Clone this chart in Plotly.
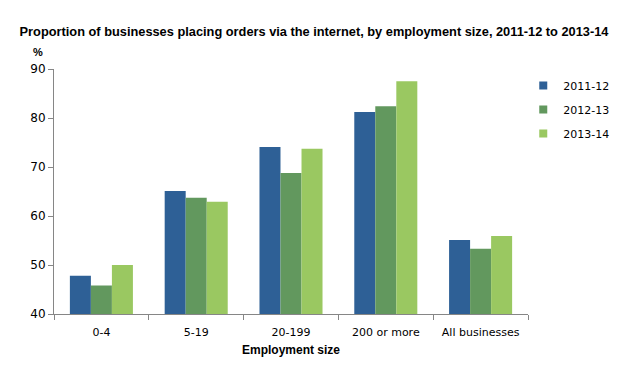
import plotly.graph_objects as go

categories = ["0-4", "5-19", "20-199", "200 or more", "All businesses"]
series_names = ["2011-12", "2012-13", "2013-14"]
values_2011_12 = [47.8, 65.1, 74.1, 81.2, 55.1]
values_2012_13 = [45.8, 63.7, 68.8, 82.4, 53.3]
values_2013_14 = [50.0, 62.9, 73.7, 87.5, 55.9]
y_ticks = [40, 50, 60, 70, 80, 90]

colors = ["#2E6096", "#62985E", "#9AC861"]
series_values = [values_2011_12, values_2012_13, values_2013_14]

fig = go.Figure()
for name, vals, col in zip(series_names, series_values, colors):
    fig.add_trace(go.Bar(x=categories, y=vals, name=name, marker_color=col,
                         marker_line_width=0, showlegend=False))
for i, (name, col) in enumerate(zip(series_names, colors)):
    fig.add_trace(go.Scatter(x=[None], y=[None], mode="markers", name=name,
                             legendgroup=f"g{i}",
                             marker=dict(symbol="square", size=8, color=col)))

axis_col = "#868686"
# page body adds an 8px offset; figure sized to fit the 623x390 window
W, H = 615, 382
fig.update_layout(
    width=W, height=H,
    margin=dict(l=46, r=95, t=61, b=76, autoexpand=False),
    paper_bgcolor="white", plot_bgcolor="white",
    barmode="group", bargap=0.335, bargroupgap=0,
    font=dict(family="DejaVu Sans", size=11, color="#000000"),
    title=dict(text="<b>Proportion of businesses placing orders via the internet, by employment size, 2011-12 to 2013-14</b>",
               x=306 / W, xref="container", xanchor="center", y=1 - 24 / H, yanchor="middle",
               font=dict(family="Liberation Sans", size=12.8, color="#000000")),
    xaxis=dict(showline=True, linecolor=axis_col, linewidth=1, automargin=False,
               ticks="outside", tickson="boundaries", ticklen=5, tickcolor=axis_col,
               ticklabelstandoff=8,
               showgrid=False, zeroline=False,
               tickfont=dict(family="DejaVu Sans", size=11),
               title=dict(text="<b>Employment size</b>", standoff=7,
                          font=dict(family="Liberation Sans", size=12))),
    yaxis=dict(range=[40, 90], tickvals=y_ticks, showline=True, linecolor=axis_col,
               linewidth=1, ticks="outside", ticklen=5, tickcolor=axis_col, automargin=False,
               showgrid=False, zeroline=False,
               tickfont=dict(family="DejaVu Sans", size=12)),
    legend=dict(x=0.99, xanchor="left", y=0.992, yanchor="top",
                traceorder="grouped", tracegroupgap=5,
                font=dict(family="DejaVu Sans", size=11),
                bgcolor="rgba(0,0,0,0)"),
    annotations=[dict(text="<b>%</b>", xref="paper", yref="paper", x=-0.034, y=1.07,
                      xanchor="center", yanchor="middle", showarrow=False,
                      font=dict(family="Liberation Sans", size=11))],
)

fig.write_html("out.html")
